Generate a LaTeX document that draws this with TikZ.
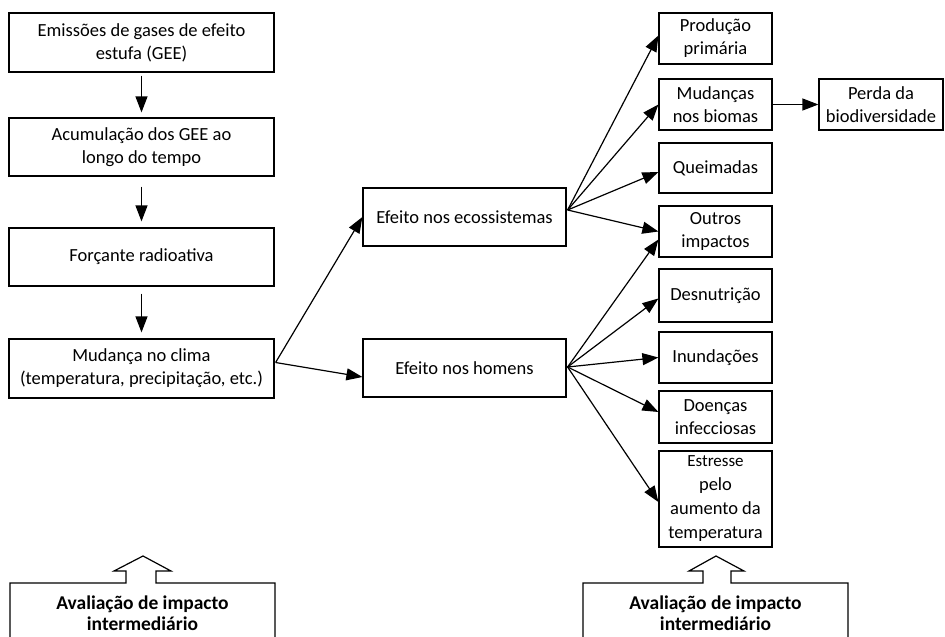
\documentclass[tikz,border=0pt]{standalone}
\usepackage{fontspec}
\setmainfont{Carlito}
\usetikzlibrary{arrows.meta,calc}
\begin{document}
\begin{tikzpicture}[x=1pt,y=-1pt,
  box/.style={draw,line width=1.2pt,inner sep=0pt,align=center,font=\fontsize{18.5}{23}\selectfont},
  arr/.style={line width=1.2pt,-{Triangle[length=16pt,width=12pt]}},
  outl/.style={line width=1.2pt,line join=miter},
  assess/.style={align=center,inner sep=0pt,font=\fontsize{19.5}{21.5}\selectfont\bfseries}]
\useasboundingbox (0,0) rectangle (945,637);
% left column
\node[box,minimum width=265pt,minimum height=59pt] (b1) at (141.5,42.5) {Emissões de gases de efeito\\estufa (GEE)};
\node[box,minimum width=265pt,minimum height=58pt] (b2) at (141.5,147) {Acumulação dos GEE ao\\longo do tempo};
\node[box,minimum width=265pt,minimum height=58pt] (b3) at (141.5,257) {Forçante radioativa};
\node[box,minimum width=265pt,minimum height=59pt] (b4) at (141.5,368.5) {Mudança no clima\\(temperatura, precipitação, etc.)};
% middle
\node[box,minimum width=203pt,minimum height=58pt] (eco) at (464.5,217) {Efeito nos ecossistemas};
\node[box,minimum width=203pt,minimum height=58pt] (hom) at (464.5,368) {Efeito nos homens};
% right
\node[box,minimum width=113pt,minimum height=51pt] (prod) at (715.5,38.5) {Produção\\primária};
\node[box,minimum width=113pt,minimum height=51pt] (mud) at (715.5,104.5) {Mudanças\\nos biomas};
\node[box,minimum width=113pt,minimum height=50pt] (que) at (715.5,168) {Queimadas};
\node[box,minimum width=113pt,minimum height=51pt] (out) at (715.5,231.5) {Outros\\impactos};
\node[box,minimum width=113pt,minimum height=53pt] (des) at (715.5,295.5) {Desnutrição};
\node[box,minimum width=113pt,minimum height=51pt] (inu) at (715.5,357.5) {Inundações};
\node[box,minimum width=113pt,minimum height=52pt] (doe) at (715.5,417) {Doenças\\infecciosas};
\node[box,minimum width=113pt,minimum height=96pt,font=\fontsize{18.5}{24}\selectfont] (est) at (715.5,499) {{\fontsize{17}{24}\selectfont Estresse}\\pelo\\aumento da\\temperatura};
\node[box,minimum width=124pt,minimum height=51pt] (per) at (881,104.5) {Perda da\\biodiversidade};
% vertical arrows
\draw[arr,shorten <=3pt,shorten >=5pt] (b1) -- (b2);
\draw[arr,shorten <=10pt,shorten >=6pt] (b2) -- (b3);
\draw[arr,shorten <=7pt,shorten >=6pt] (b3) -- (b4);
% sources
\coordinate (s4) at ($(b4.east)+(1,-6)$);
\coordinate (se) at ($(eco.east)+(1,-7)$);
\coordinate (sh) at ($(hom.east)+(1,-1)$);
\draw[arr] (s4) -- (eco.west);
\draw[arr] (s4) -- ($(hom.west)+(0,9)$);
\draw[arr] (se) -- ($(prod.west)+(0,-3)$);
\draw[arr] (se) -- (mud.west);
\draw[arr] (se) -- ($(que.west)+(0,4)$);
\draw[arr] (se) -- (out.west);
\draw[arr] (sh) -- ($(out.west)+(0,8)$);
\draw[arr] (sh) -- ($(des.west)+(0,3)$);
\draw[arr] (sh) -- (inu.west);
\draw[arr] (sh) -- ($(doe.west)+(0,-5)$);
\draw[arr] (sh) -- ($(est.west)+(0,3)$);
\draw[arr] (mud) -- (per);
% bottom assessment shapes
\draw[outl] (10,640) -- (10,583) -- (126,583) -- (126,571) -- (114,571) -- (143,556) -- (171,571) -- (156,571) -- (156,583) -- (275,583) -- (275,640);
\draw[outl] (583,640) -- (583,583) -- (703,583) -- (703,571) -- (689,571) -- (716,556) -- (744,571) -- (731,571) -- (731,583) -- (848,583) -- (848,640);
\node[assess] (av1) at (142.5,613) {Avaliação de impacto\\intermediário};
\node[assess] (av2) at (715.5,613) {Avaliação de impacto\\intermediário};
\end{tikzpicture}
\end{document}
